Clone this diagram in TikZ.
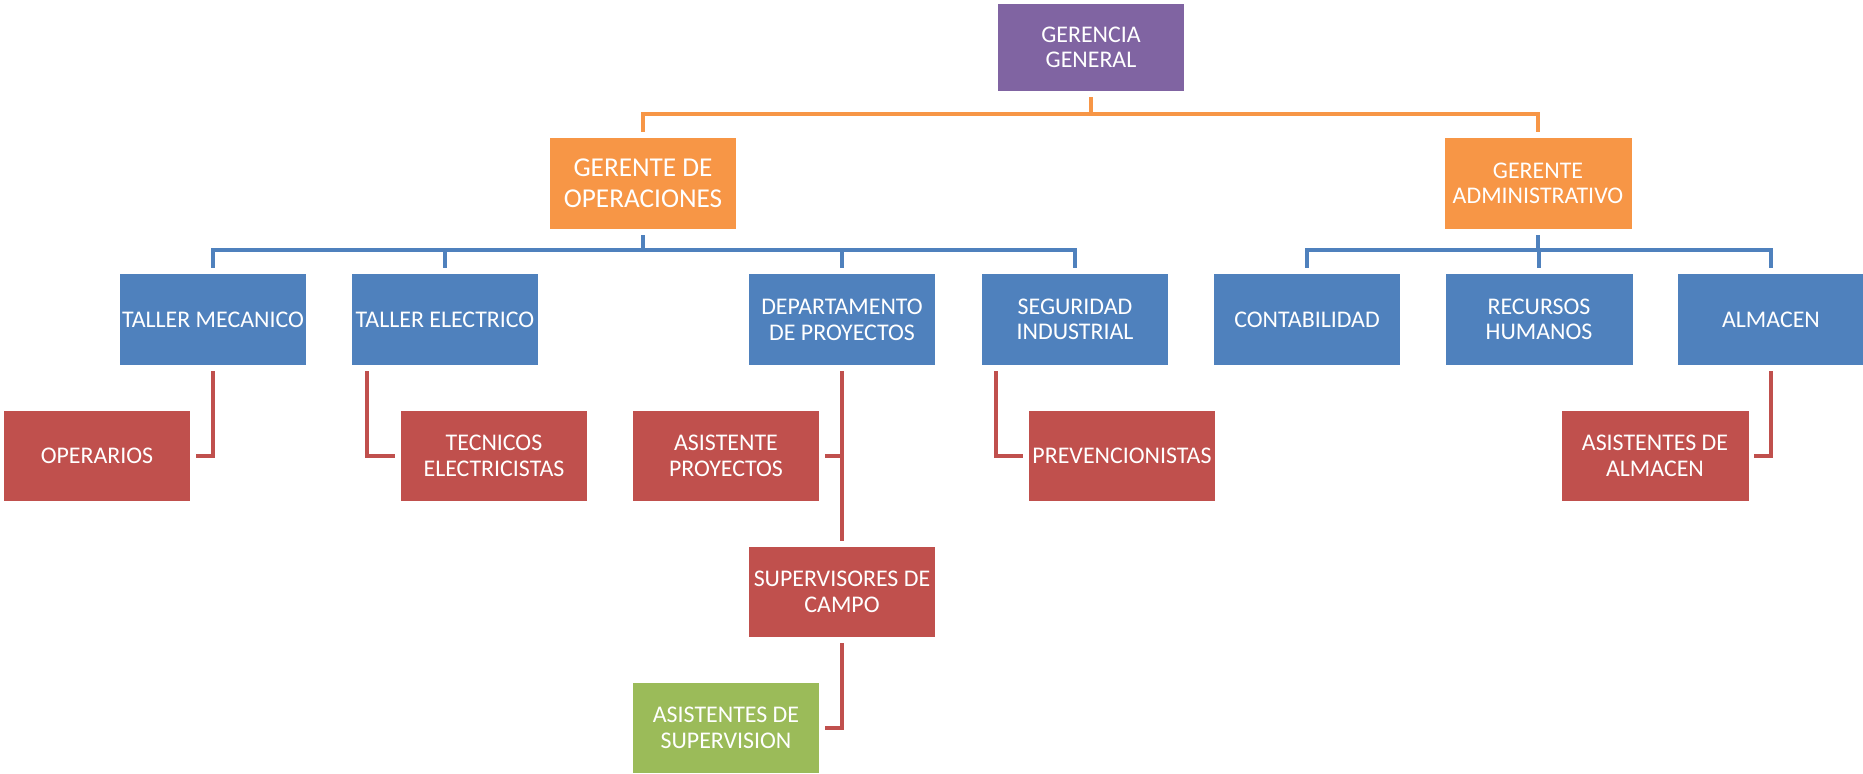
\documentclass[tikz,border=0pt]{standalone}
\usepackage{fontspec}
\setmainfont{Carlito}
\usepackage{xcolor}
\definecolor{gpurple}{HTML}{8064A2}
\definecolor{gorange}{HTML}{F79646}
\definecolor{gblue}{HTML}{4F81BD}
\definecolor{gred}{HTML}{C0504D}
\definecolor{ggreen}{HTML}{9BBB59}
\begin{document}
\begin{tikzpicture}[x=0.02cm, y=-0.02cm,
    b/.style={rectangle, minimum width=3.74cm, minimum height=1.82cm,
              inner sep=0pt, text=white, align=center,
              font=\fontsize{13.6}{14.6}\selectfont},
    pu/.style={b, fill=gpurple, minimum height=1.74cm},
    og/.style={b, fill=gorange},
    bl/.style={b, fill=gblue},
    rd/.style={b, fill=gred, minimum height=1.8cm},
    gr/.style={b, fill=ggreen, minimum height=1.8cm},
    l/.style={line width=2.2pt, shorten <=0.12cm, shorten >=0.11cm}]
  \useasboundingbox (0,0) rectangle (1863,774);
  \node[pu] (gg) at (1091,47.5) {GERENCIA\\GENERAL};
  \node[og, font=\fontsize{15.5}{17.6}\selectfont] (go) at (643,183.5) {GERENTE DE\\OPERACIONES};
  \node[og] (ga) at (1538,183.5) {GERENTE\\ADMINISTRATIVO};
  \node[bl] (tm) at (213,319.5) {TALLER MECANICO};
  \node[bl] (te) at (445,319.5) {TALLER ELECTRICO};
  \node[bl] (dp) at (842,319.5) {DEPARTAMENTO\\DE PROYECTOS};
  \node[bl] (si) at (1075,319.5) {SEGURIDAD\\INDUSTRIAL};
  \node[bl] (co) at (1307,319.5) {CONTABILIDAD};
  \node[bl] (rh) at (1539,319.5) {RECURSOS\\HUMANOS};
  \node[bl] (al) at (1771,319.5) {ALMACEN};
  \node[rd] (op) at (97,456) {OPERARIOS};
  \node[rd] (tc) at (494,456) {TECNICOS\\ELECTRICISTAS};
  \node[rd] (ap) at (726,456) {ASISTENTE\\PROYECTOS};
  \node[rd] (pv) at (1122,456) {PREVENCIONISTAS};
  \node[rd] (aa) at (1655,456) {ASISTENTES DE\\ALMACEN};
  \node[rd] (sc) at (842,592) {SUPERVISORES DE\\CAMPO};
  \node[gr] (as) at (726,728) {ASISTENTES DE\\SUPERVISION};
  \draw[l, gorange] (gg.south) -- ++(0,23) -| (go.north);
  \draw[l, gorange] (gg.south) -- ++(0,23) -| (ga.north);
  \foreach \t in {tm, te, dp, si}
    \draw[l, gblue] (go.south) -- ++(0,21) -| (\t.north);
  \foreach \t in {co, rh, al}
    \draw[l, gblue] (ga.south) -- ++(0,21) -| (\t.north);
  \draw[l, gred] (tm.south) |- (op.east);
  \draw[l, gred] ([xshift=0.32cm]te.south west) |- (tc.west);
  \draw[l, gred] (dp.south) |- (ap.east);
  \draw[l, gred] (dp.south) -- (sc.north);
  \draw[l, gred] (sc.south) |- (as.east);
  \draw[l, gred] ([xshift=0.3cm]si.south west) |- (pv.west);
  \draw[l, gred] (al.south) |- (aa.east);
\end{tikzpicture}
\end{document}
